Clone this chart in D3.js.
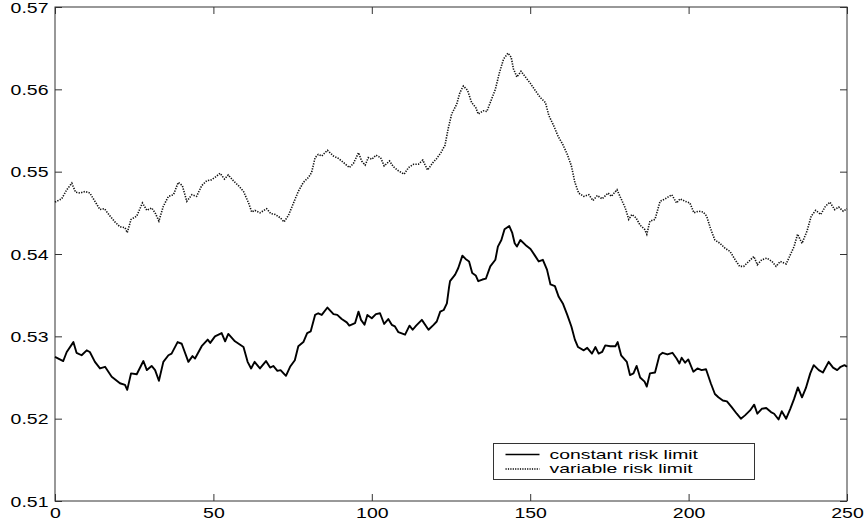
<!DOCTYPE html>
<html><head><meta charset="utf-8">
<script src="https://cdn.jsdelivr.net/npm/d3@7"></script>
<style>body{margin:0;background:#fff}svg{display:block}</style>
</head><body><svg id="c" width="865" height="527"></svg>
<script>
const xTicks=[0,50,100,150,200,250];
const yTicks=[0.51,0.52,0.53,0.54,0.55,0.56,0.57];
const seriesNames=["constant risk limit","variable risk limit"];
const constX=[0,2.6,3.7,5.8,6.8,8.4,10,11,12.6,14.2,15.8,17.9,20.5,22.1,22.8,24,25.8,27.9,29,30.5,31.6,32.8,34.2,35.8,36.8,38.7,40,42.1,43.4,44.2,46.3,48.2,49,50.5,52.6,53.7,54.7,56.8,59.5,60.8,61.9,63,64.7,66.6,67.9,68.9,70.2,71.2,72.9,74.2,75.7,76.8,78.4,79.6,80.7,82.1,83.1,84.2,86,87.9,89.1,90.5,92.1,92.9,94.7,95.8,96.6,97.7,98.6,100,101.3,102.6,103.9,105.2,106.3,107.3,108.4,110.5,111.9,112.9,114,115.8,117.9,119.5,120.5,121.6,122.7,123.7,124.4,124.7,126.3,127.3,128.6,129.6,130.7,131.7,132.8,133.6,134.9,136,137.4,139,139.8,140.9,141.9,143.4,144.3,145.1,145.8,146.9,148.5,150.1,151.5,152.7,154,155.3,156.4,157.8,159,160.3,161.7,163,164.1,165.1,166.9,168,169.5,170.6,171.6,172.7,173.7,175.3,176.9,177.6,178.7,180.5,181.5,182.6,183.6,184.7,186.1,186.8,187.8,189.4,190.8,191.8,193.3,194.9,196.2,197.1,197.8,198.9,199.9,201.5,202.8,204.1,205.5,207,208.3,209.4,210.8,212.1,213.6,215.2,216.5,217.8,219.4,220.7,221.7,223.1,224.5,226,227,228.4,229.4,230.8,232.1,233.3,234.5,235.8,237,238.4,239.5,241.1,242.4,244.2,245.6,246.9,248,249.2,250];
const constY=[0.5275,0.5270,0.5281,0.5293,0.5280,0.5277,0.5283,0.5281,0.5269,0.5261,0.5263,0.5251,0.5243,0.5241,0.5235,0.5255,0.5254,0.5270,0.5259,0.5264,0.5259,0.5246,0.5269,0.5277,0.5279,0.5293,0.5291,0.5269,0.5276,0.5273,0.5288,0.5296,0.5292,0.5300,0.5304,0.5294,0.5303,0.5294,0.5287,0.5269,0.5261,0.5269,0.5261,0.5270,0.5262,0.5264,0.5258,0.5259,0.5252,0.5263,0.5271,0.5288,0.5293,0.5304,0.5306,0.5326,0.5328,0.5326,0.5335,0.5327,0.5326,0.5321,0.5317,0.5313,0.5316,0.5330,0.5320,0.5314,0.5326,0.5322,0.5327,0.5328,0.5315,0.5321,0.5314,0.5312,0.5305,0.5302,0.5313,0.5308,0.5313,0.5320,0.5308,0.5314,0.5318,0.5330,0.5332,0.5340,0.5360,0.5367,0.5375,0.5383,0.5398,0.5394,0.5391,0.5377,0.5374,0.5367,0.5369,0.5370,0.5385,0.5393,0.5409,0.5417,0.5430,0.5434,0.5426,0.5413,0.5409,0.5417,0.5411,0.5406,0.5398,0.5391,0.5393,0.5381,0.5363,0.5361,0.5348,0.5340,0.5326,0.5312,0.5296,0.5287,0.5283,0.5286,0.5279,0.5287,0.5279,0.5281,0.5289,0.5288,0.5288,0.5293,0.5277,0.5269,0.5253,0.5255,0.5264,0.5250,0.5245,0.5239,0.5255,0.5256,0.5277,0.5280,0.5278,0.5280,0.5273,0.5267,0.5274,0.5268,0.5272,0.5257,0.5261,0.5259,0.5260,0.5243,0.5230,0.5226,0.5222,0.5221,0.5214,0.5206,0.5200,0.5204,0.5210,0.5217,0.5206,0.5212,0.5213,0.5208,0.5206,0.5199,0.5209,0.5200,0.5212,0.5224,0.5238,0.5226,0.5237,0.5255,0.5265,0.5259,0.5256,0.5269,0.5262,0.5259,0.5263,0.5265,0.5263];
const varX=[0,2.1,3.7,5.3,6.5,7.9,9.5,11,12.6,14.2,15.6,17.4,18.9,20.5,22.1,22.8,24,25.8,27.6,29,30.5,31.6,32.8,34.2,35.8,37.4,38.9,40.2,41.6,43.2,44.7,46.3,47.9,49.3,50.5,52.1,53.5,54.7,56.3,57.9,59.5,61.1,62.1,63.1,64.7,66.8,68.1,69.5,71.1,72.3,73.7,75.3,76.8,78.4,80,81,82.1,83.1,84.2,86,87.9,89.5,91.1,92.9,94.2,95.8,96.8,97.9,98.9,100,101.3,102.8,103.9,105.6,106.8,108.4,110.2,111.6,113.2,114.7,116.1,117.6,119.3,120.5,121.8,123.1,124.1,125.2,126.8,127.8,128.9,130.2,131.5,132.8,133.6,135.2,136.3,137.4,139,140.2,141.6,143,144,144.7,145.8,147.1,148.5,150.1,151.7,153.2,154.8,155.9,157.4,158.8,160.3,161.7,163,164.1,165.3,166.9,168.5,169.8,171.2,172.7,174.6,175.6,177.4,178.7,180,181.1,182.1,183.4,184.7,186.1,186.8,187.8,189.4,191,192.6,194.7,196.2,197.3,198.9,200.4,201.7,203.1,204.6,205.7,207,208.3,209.9,211.5,213.1,214.7,216.1,217.4,219,220.6,221.7,223.1,224.7,226.3,227.6,228.9,230.8,232.1,233.3,234.4,235.8,237.4,238.7,240.1,241.7,243.2,244.6,246.1,247.4,248.8,250];
const varY=[0.5463,0.5467,0.5478,0.5486,0.5475,0.5474,0.5476,0.5474,0.5464,0.5454,0.5455,0.5446,0.5439,0.5433,0.5432,0.5426,0.5442,0.5446,0.5462,0.5453,0.5456,0.5450,0.5440,0.5458,0.5470,0.5472,0.5487,0.5483,0.5464,0.5472,0.5470,0.5483,0.5489,0.5490,0.5493,0.5498,0.5491,0.5496,0.5489,0.5483,0.5476,0.5462,0.5451,0.5453,0.5450,0.5455,0.5449,0.5448,0.5444,0.5439,0.5447,0.5462,0.5476,0.5487,0.5493,0.5499,0.5517,0.5521,0.5519,0.5526,0.5519,0.5516,0.5511,0.5505,0.5510,0.5523,0.5513,0.5508,0.5517,0.5515,0.5520,0.5517,0.5507,0.5513,0.5506,0.5501,0.5497,0.5505,0.5509,0.5509,0.5514,0.5502,0.5511,0.5516,0.5523,0.5532,0.5552,0.5570,0.5582,0.5596,0.5604,0.5599,0.5584,0.5578,0.5570,0.5574,0.5573,0.5584,0.5600,0.5619,0.5637,0.5644,0.5639,0.5625,0.5615,0.5622,0.5615,0.5607,0.5598,0.5590,0.5584,0.5568,0.5556,0.5543,0.5533,0.5521,0.5507,0.5487,0.5474,0.5470,0.5472,0.5465,0.5471,0.5467,0.5474,0.5470,0.5478,0.5467,0.5456,0.5442,0.5448,0.5444,0.5435,0.5430,0.5424,0.5440,0.5442,0.5464,0.5467,0.5472,0.5462,0.5467,0.5464,0.5462,0.5450,0.5452,0.5451,0.5446,0.5430,0.5417,0.5413,0.5407,0.5403,0.5393,0.5385,0.5385,0.5391,0.5397,0.5387,0.5393,0.5395,0.5391,0.5385,0.5391,0.5388,0.5399,0.5409,0.5424,0.5413,0.5428,0.5446,0.5453,0.5448,0.5458,0.5463,0.5454,0.5457,0.5452,0.5455];

const W=865,H=527,m={l:55,t:7,r:18,b:26};
const iw=W-m.l-m.r, ih=H-m.t-m.b;
const SX=1.3, FS=15, FONT="'Liberation Sans', Arial, Helvetica, sans-serif";
const svg=d3.select("#c");
const g=svg.append("g").attr("transform",`translate(${m.l},${m.t})`);
const x=d3.scaleLinear().domain([0,250]).range([0,iw]);
const y=d3.scaleLinear().domain([0.51,0.57]).range([ih,0]);

function styleAxis(sel){
  sel.select(".domain").remove();
  sel.selectAll("line").attr("stroke","#333").attr("stroke-width",1);
  sel.selectAll("text").attr("font-family",FONT).attr("font-size",FS).attr("fill","#000");
}
const gb=g.append("g").attr("transform",`translate(0,${ih})`)
  .call(d3.axisBottom(x).tickValues(xTicks).tickSize(-7).tickPadding(0).tickFormat(d3.format("d")));
styleAxis(gb);
gb.selectAll("text").attr("y",6).attr("dy","0.71em").attr("transform",`scale(${SX},1)`);
const gt=g.append("g").call(d3.axisTop(x).tickValues(xTicks).tickSize(-7).tickFormat(""));
styleAxis(gt);
const gl=g.append("g").call(d3.axisLeft(y).tickValues(yTicks).tickSize(-7).tickFormat(d3.format(".2f")));
styleAxis(gl);
gl.selectAll("text").attr("x",-6.5/SX).attr("dy","0.34em").attr("transform",`scale(${SX},1)`);
const gr=g.append("g").attr("transform",`translate(${iw},0)`)
  .call(d3.axisRight(y).tickValues(yTicks).tickSize(-7).tickFormat(""));
styleAxis(gr);
g.append("rect").attr("x",0).attr("y",0).attr("width",iw).attr("height",ih)
  .attr("fill","none").attr("stroke","#333").attr("stroke-width",1);

const line=d3.line().x(d=>x(d[0])).y(d=>y(d[1]));
const constData=constX.map((v,i)=>[v,constY[i]]);
const varData=varX.map((v,i)=>[v,varY[i]]);
g.append("path").datum(varData).attr("d",line).attr("fill","none")
  .attr("stroke","#111").attr("stroke-width",1.6).attr("stroke-dasharray","1.3,1.3");
g.append("path").datum(constData).attr("d",line).attr("fill","none")
  .attr("stroke","#000").attr("stroke-width",1.9).attr("stroke-linejoin","round");

// legend
const LFS=12.5, LSX=1.55, ROW=14.5;
const lg=svg.append("g").attr("transform","translate(493.5,443.5)");
lg.append("rect").attr("width",261).attr("height",36).attr("fill","#fff").attr("stroke","#333").attr("stroke-width",1);
const rows=[{dash:null,w:1.5},{dash:"1.2,1.2",w:1.4}];
rows.forEach((r,i)=>{
  const yy=11+i*ROW;
  lg.append("line").attr("x1",12).attr("x2",46).attr("y1",yy).attr("y2",yy)
    .attr("stroke","#000").attr("stroke-width",r.w).attr("stroke-dasharray",r.dash);
  lg.append("text").attr("transform",`scale(${LSX},1)`).attr("x",56/LSX).attr("y",yy).attr("dy","0.36em")
    .attr("font-family",FONT).attr("font-size",LFS).attr("fill","#000").text(seriesNames[i]);
});
</script></body></html>
